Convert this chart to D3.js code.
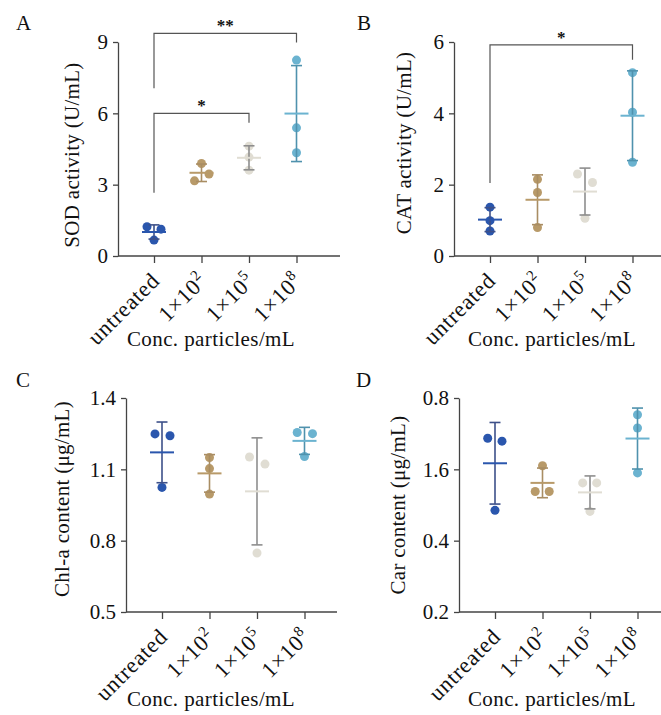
<html>
<head>
<style>
  body { margin: 0; background: #fff; }
  svg { display: block; }
  text { font-family: "Liberation Serif", "Times New Roman", serif; fill: #111; }
  .axis path, .axis line { stroke: #444; stroke-width: 1.3px; }
  .axis text { font-size: 21px; font-family: "Liberation Serif", serif; fill: #111; }
  .bracket { fill: none; stroke: #555; stroke-width: 1.2px; }
</style>
</head>
<body>
<div class="chart"></div>
<script src="https://d3js.org/d3.v7.min.js"></script>
<script>
  // categories (exponent after ^)
  var categories = ["untreated", "1×10^2", "1×10^5", "1×10^8"];

  // three replicates per group
  var sodValues  = [[1.23, 1.13, 0.67], [3.89, 3.16, 3.45], [4.62, 4.16, 3.61], [8.24, 5.39, 4.34]];
  var catValues  = [[1.37, 0.99, 0.70], [2.15, 1.78, 0.80], [2.30, 2.06, 1.06], [5.14, 4.03, 2.63]];
  var chlaValues = [[1.249, 1.241, 1.024], [1.150, 1.103, 0.996], [1.152, 1.122, 0.748], [1.255, 1.250, 1.154]];
  var carValues  = [[0.687, 0.679, 0.485], [0.610, 0.538, 0.538], [0.562, 0.562, 0.482], [0.753, 0.716, 0.590]];

  var sodTicks = [0, 3, 6, 9];
  var catTicks = [0, 2, 4, 6];
  var chlaTicks = [0.5, 0.8, 1.1, 1.4];
  var carTicks = [0.2, 0.4, 0.6, 0.8];
  var carTickLabels = ["0.2", "0.4", "1.6", "0.8"];

  // significance brackets, in data units
  var sodBrackets = [
    {from: 0, to: 3, top: 9.36, left: 7.05, right: 8.98, label: "**"},
    {from: 0, to: 2, top: 6.0, left: 2.66, right: 5.6, label: "*"}
  ];
  var catBrackets = [
    {from: 0, to: 3, top: 5.92, left: 2.05, right: 5.5, label: "*"}
  ];

  var dotColors = ["#2a56ad", "#b89a69", "#e0ddd3", "#6bb3d0"];
  var barColors = ["#3d5089", "#a98d63", "#8e8e8e", "#4f92ad"];

  var panels = [
    {letter: "A", values: sodValues, ticks: sodTicks, domain: [0, 9], title: "SOD activity (U/mL)", brackets: sodBrackets,
     jitter: [[-7, 7, 0], [0, -7, 7.5], [0, 0, 0], [0, 0, 0]],
     x0: 118, yTop: 42, yBottom: 256, xEnd: 340, letterX: 16, letterY: 30, titleX: 211, titleY: 346, yTitleX: 79, yTitleY: 155},
    {letter: "B", values: catValues, ticks: catTicks, domain: [0, 6], title: "CAT activity (U/mL)", brackets: catBrackets,
     jitter: [[0, 0, 0], [0, 0, 0], [-7.5, 7.5, 0], [0, 0, 0]],
     x0: 454, yTop: 42, yBottom: 256, xEnd: 661, letterX: 357, letterY: 30, titleX: 552, titleY: 346, yTitleX: 411, yTitleY: 143},
    {letter: "C", values: chlaValues, ticks: chlaTicks, domain: [0.5, 1.4], title: "Chl-a content (μg/mL)", brackets: [],
     jitter: [[-7, 8, 0], [0, 0, 0], [-7.5, 8, 0], [-7.3, 8, 0]],
     x0: 126, yTop: 398, yBottom: 612, xEnd: 337, letterX: 16, letterY: 387, titleX: 211, titleY: 706, yTitleX: 69, yTitleY: 499},
    {letter: "D", values: carValues, ticks: carTicks, tickLabels: carTickLabels, domain: [0.2, 0.8], title: "Car content (μg/mL)", brackets: [],
     jitter: [[-7.3, 7, 0], [0, -7.3, 6.7], [-7.3, 6.7, 0], [0, 0, 0]],
     x0: 459, yTop: 398, yBottom: 612, xEnd: 661, letterX: 356, letterY: 387, titleX: 552, titleY: 706, yTitleX: 405, yTitleY: 505}
  ];

  var svg = d3.select(".chart").append("svg")
      .attr("width", 661)
      .attr("height", 715);

  panels.forEach(function(p){
    var g = svg.append("g");

    var x = d3.scalePoint()
        .domain(categories)
        .range([p.x0 + 36, p.x0 + 36 + 3 * 47.5]);

    var y = d3.scaleLinear()
        .domain(p.domain)
        .range([p.yBottom, p.yTop]);

    // y axis
    var yAxis = d3.axisLeft(y)
        .tickValues(p.ticks)
        .tickSize(5)
        .tickSizeOuter(0)
        .tickPadding(5)
        .tickFormat(function(d, i){ return p.tickLabels ? p.tickLabels[i] : d3.format("")(d); });

    g.append("g")
        .attr("class", "axis")
        .attr("transform", "translate(" + p.x0 + ",0)")
        .call(yAxis);

    // x axis
    var xAxis = d3.axisBottom(x)
        .tickSize(7)
        .tickFormat("");

    var xg = g.append("g")
        .attr("class", "axis")
        .attr("transform", "translate(0," + p.yBottom + ")")
        .call(xAxis);
    xg.select(".domain").remove();
    xg.append("line")
        .attr("x1", p.x0).attr("x2", p.xEnd)
        .attr("y1", 0).attr("y2", 0);

    // rotated category labels
    categories.forEach(function(c){
      var parts = c.split("^");
      var t = g.append("text")
          .attr("transform", "translate(" + (x(c) + 7) + "," + (p.yBottom + 26) + ") rotate(-45)")
          .attr("text-anchor", "end")
          .style("font-size", "22.5px")
          .style("letter-spacing", "0.8px");
      t.append("tspan").text(parts[0]);
      if (parts[1]) {
        t.append("tspan")
            .attr("dy", -9)
            .style("font-size", "15px")
            .text(parts[1]);
      }
    });

    // titles
    g.append("text")
        .attr("x", p.titleX)
        .attr("y", p.titleY)
        .attr("text-anchor", "middle")
        .style("font-size", "21px")
        .style("letter-spacing", "0.4px")
        .text("Conc. particles/mL");

    g.append("text")
        .attr("transform", "translate(" + p.yTitleX + "," + p.yTitleY + ") rotate(-90)")
        .attr("text-anchor", "middle")
        .style("font-size", "21px")
        .style("letter-spacing", "0.3px")
        .text(p.title);

    g.append("text")
        .attr("x", p.letterX)
        .attr("y", p.letterY)
        .style("font-size", "21px")
        .text(p.letter);

    // brackets
    p.brackets.forEach(function(b){
      var xa = x(categories[b.from]), xb = x(categories[b.to]);
      g.append("path")
          .attr("class", "bracket")
          .attr("d", "M" + xa + "," + y(b.left) + "V" + y(b.top) + "H" + xb + "V" + y(b.right));
      g.append("text")
          .attr("x", (xa + xb) / 2)
          .attr("y", y(b.top) - 2)
          .attr("text-anchor", "middle")
          .style("font-size", "17px")
          .style("font-weight", "bold")
          .text(b.label);
    });

    // groups: error bars, mean line, dots
    p.values.forEach(function(vals, i){
      var cx = x(categories[i]);
      var m = d3.mean(vals), sd = d3.deviation(vals);
      var grp = g.append("g");

      grp.selectAll("circle")
          .data(vals)
        .enter().append("circle")
          .attr("cx", function(d, j){ return cx + p.jitter[i][j]; })
          .attr("cy", function(d){ return y(d); })
          .attr("r", 4.5)
          .attr("fill", dotColors[i]);

      grp.append("line")
          .attr("x1", cx).attr("x2", cx)
          .attr("y1", y(m + sd)).attr("y2", y(m - sd))
          .attr("stroke", barColors[i]).attr("stroke-width", 1.6);
      [m + sd, m - sd].forEach(function(v){
        grp.append("line")
            .attr("x1", cx - 5.5).attr("x2", cx + 5.5)
            .attr("y1", y(v)).attr("y2", y(v))
            .attr("stroke", barColors[i]).attr("stroke-width", 1.6);
      });
      grp.append("line")
          .attr("x1", cx - 12).attr("x2", cx + 12)
          .attr("y1", y(m)).attr("y2", y(m))
          .attr("stroke", dotColors[i]).attr("stroke-width", 2);
    });
  });
</script>
</body>
</html>
